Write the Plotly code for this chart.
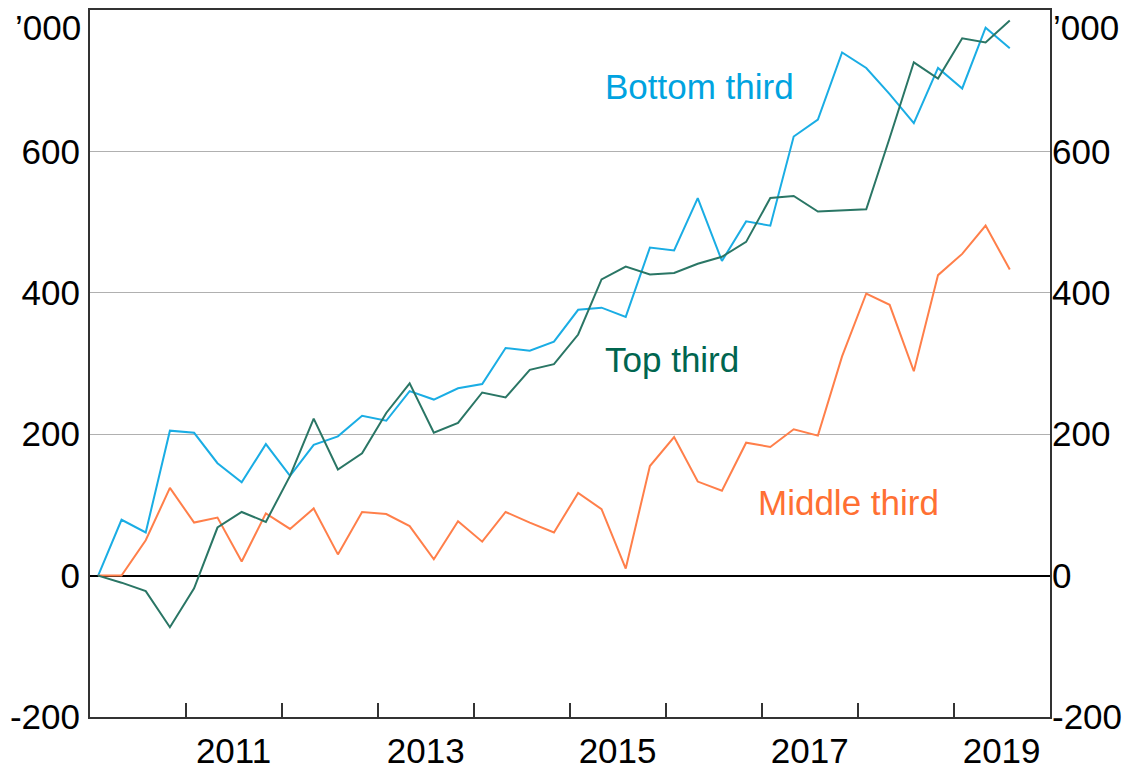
import plotly.graph_objects as go
import pandas as pd

# Quarterly observations, Feb 2010 .. Aug 2019 (cumulative change, '000)
quarters = pd.date_range("2010-02-01", periods=39, freq="3MS")

bottom_third = [0, 79, 61, 205, 202, 159, 132, 186, 141, 185, 197, 226, 219, 261, 249,
                265, 271, 322, 318, 331, 376, 379, 366, 464, 460, 534, 445, 501, 495,
                621, 645, 740, 718, 681, 640, 718, 689, 775, 746]
middle_third = [0, 0, 50, 124, 75, 82, 20, 88, 66, 95, 30, 90, 87, 70, 23,
                77, 48, 90, 75, 61, 117, 94, 10, 155, 196, 133, 120, 188, 182,
                207, 198, 310, 399, 383, 289, 425, 455, 495, 433]
top_third = [0, -10, -22, -73, -18, 68, 90, 76, 141, 222, 150, 173, 230, 272, 202,
             216, 259, 252, 291, 299, 341, 419, 437, 426, 428, 441, 451, 472, 534,
             537, 515, 517, 518, 619, 726, 703, 760, 754, 785]

year_ticks = [f"{y}-01-01" for y in range(2011, 2020)]
label_years = [2011, 2013, 2015, 2017, 2019]
label_pos = [f"{y}-07-01" for y in label_years]
y_ticks = [-200, 0, 200, 400, 600]
y_text = ["-200", "0", "200", "400", "600"]

FONT = "Arial, Liberation Sans, sans-serif"
FS = 35
BLUE, GREEN, ORANGE = "#1AADE4", "#2A7665", "#FF7F4A"
BLUE_T, GREEN_T, ORANGE_T = "#00A3E0", "#00654F", "#FF7033"
x_range = ["2010-01-01", "2020-01-01"]
y_range = [-200, 800]

fig = go.Figure()
fig.add_trace(go.Scatter(x=quarters, y=bottom_third, mode="lines", name="Bottom third",
                         line=dict(color=BLUE, width=2)))
fig.add_trace(go.Scatter(x=quarters, y=middle_third, mode="lines", name="Middle third",
                         line=dict(color=ORANGE, width=2)))
fig.add_trace(go.Scatter(x=quarters, y=top_third, mode="lines", name="Top third",
                         line=dict(color=GREEN, width=2)))
# invisible trace to activate secondary axes
fig.add_trace(go.Scatter(x=[quarters[0]], y=[0], xaxis="x2", yaxis="y2", mode="lines",
                         line=dict(width=0), showlegend=False, hoverinfo="skip"))

fig.update_layout(
    width=1127, height=769,
    margin=dict(l=90, r=77, t=10, b=52),
    paper_bgcolor="white", plot_bgcolor="white",
    showlegend=False,
    font=dict(family=FONT, size=FS, color="black"),
    xaxis=dict(type="date", range=x_range, tickvals=year_ticks, ticktext=[""] * len(year_ticks),
               ticks="inside", ticklen=14, tickwidth=1.5, tickcolor="#333",
               showgrid=False, zeroline=False, showline=True, linecolor="#333", linewidth=2,
               mirror=True, automargin=False),
    xaxis2=dict(type="date", range=x_range, overlaying="x", side="bottom", anchor="y",
                tickvals=label_pos, ticktext=[str(y) for y in label_years], ticks="",
                showgrid=False, zeroline=False, showline=False, automargin=False,
                ticklabelstandoff=10),
    yaxis=dict(range=y_range, tickvals=y_ticks, ticktext=y_text, ticks="",
               showgrid=True, gridcolor="#b0b0b0", gridwidth=1.2,
               zeroline=True, zerolinecolor="black", zerolinewidth=1.8,
               showline=True, linecolor="#333", linewidth=2, mirror=True,
               ticklabelstandoff=1, automargin=False),
    yaxis2=dict(range=y_range, overlaying="y", side="right", anchor="x",
                tickvals=y_ticks, ticktext=y_text, ticks="", showgrid=False,
                zeroline=False, showline=False, ticklabelstandoff=1, automargin=False),
)

annotations = [
    dict(text="’000", xref="paper", yref="y", x=0, y=800, xanchor="right", yanchor="middle",
         xshift=-7, yshift=-17, showarrow=False, font=dict(size=FS, color="black")),
    dict(text="’000", xref="paper", yref="y", x=1, y=800, xanchor="left", yanchor="middle",
         xshift=1, yshift=-17, showarrow=False, font=dict(size=FS, color="black")),
    dict(text="Bottom third", x="2016-05-08", y=692, xref="x", yref="y", showarrow=False,
         font=dict(size=FS, color=BLUE_T)),
    dict(text="Top third", x="2016-01-23", y=305, xref="x", yref="y", showarrow=False,
         font=dict(size=FS, color=GREEN_T)),
    dict(text="Middle third", x="2017-11-25", y=103, xref="x", yref="y", showarrow=False,
         font=dict(size=FS, color=ORANGE_T)),
]
fig.update_layout(annotations=annotations)

fig.write_html("out.html", config={"displayModeBar": False},
               post_script="document.body.style.margin='0';")
